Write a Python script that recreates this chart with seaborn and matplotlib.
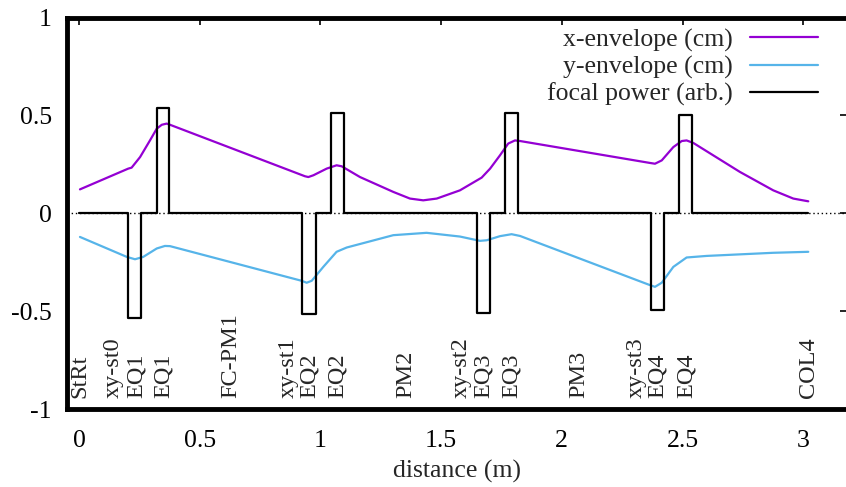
import numpy as np
import pandas as pd
import matplotlib
matplotlib.use("Agg")
import matplotlib.pyplot as plt
import seaborn as sns

# ---- data ----
x_env_s = [0.004, 0.204, 0.218, 0.253, 0.294, 0.322, 0.343, 0.363, 0.377, 0.936, 0.950, 0.971,
           1.026, 1.067, 1.088, 1.164, 1.302, 1.371, 1.426, 1.482, 1.578, 1.668, 1.703, 1.744,
           1.778, 1.806, 1.827, 2.365, 2.386, 2.414, 2.462, 2.497, 2.517, 2.545, 2.738, 2.876,
           2.959, 3.021]
x_env_v = [0.122, 0.228, 0.233, 0.287, 0.372, 0.432, 0.452, 0.458, 0.452, 0.189, 0.185, 0.194,
           0.228, 0.245, 0.240, 0.185, 0.109, 0.075, 0.066, 0.075, 0.117, 0.182, 0.228, 0.296,
           0.356, 0.372, 0.369, 0.257, 0.253, 0.270, 0.338, 0.369, 0.372, 0.359, 0.211, 0.117,
           0.075, 0.061]

y_env_s = [0.004, 0.198, 0.232, 0.266, 0.322, 0.356, 0.377, 0.922, 0.943, 0.964, 1.012, 1.067,
           1.109, 1.302, 1.440, 1.578, 1.661, 1.689, 1.744, 1.792, 1.827, 2.365, 2.386, 2.414,
           2.462, 2.517, 2.600, 2.876, 3.021]
y_env_v = [-0.121, -0.223, -0.235, -0.223, -0.180, -0.167, -0.168, -0.345, -0.355, -0.345,
           -0.274, -0.197, -0.175, -0.112, -0.100, -0.119, -0.141, -0.138, -0.117, -0.107,
           -0.116, -0.367, -0.376, -0.355, -0.274, -0.226, -0.218, -0.202, -0.197]

quad_start = [0.204, 0.322, 0.922, 1.043, 1.647, 1.765, 2.370, 2.487]
quad_end = [0.257, 0.374, 0.980, 1.096, 1.703, 1.820, 2.423, 2.541]
quad_power = [-0.536, 0.536, -0.515, 0.514, -0.512, 0.514, -0.495, 0.500]
beamline_start = 0.0
beamline_end = 3.02

elem_names = ["StRt", "xy-st0", "EQ1", "EQ1", "FC-PM1", "xy-st1", "EQ2", "EQ2", "PM2",
              "xy-st2", "EQ3", "EQ3", "PM3", "xy-st3", "EQ4", "EQ4", "COL4"]
elem_pos = [0.004, 0.141, 0.236, 0.348, 0.630, 0.866, 0.953, 1.069, 1.355,
            1.582, 1.674, 1.790, 2.071, 2.307, 2.394, 2.515, 3.024]

x_ticks = [0, 0.5, 1, 1.5, 2, 2.5, 3]
x_ticklabels = ["0", "0.5", "1", "1.5", "2", "2.5", "3"]
y_ticks = [-1, -0.5, 0, 0.5, 1]
y_ticklabels = ["-1", "-0.5", "0", "0.5", "1"]

# ---- build focal power step profile from quad table ----
fs = [beamline_start]
fv = [0.0]
for s, e, p in zip(quad_start, quad_end, quad_power):
    fs += [s, s, e, e]
    fv += [0.0, p, p, 0.0]
fs.append(beamline_end)
fv.append(0.0)

sns.set_style("white")
plt.rcParams['font.family'] = ['Liberation Serif', 'DejaVu Serif']
FS = 18.5
LFS = 17.5

fig = plt.figure(figsize=(8.46, 4.87), dpi=100)
W, H = 846, 487
xmin, xmax = -0.05, 3.18
ppu = 241.4
left_px = 79 + xmin * ppu
width_px = (xmax - xmin) * ppu
top_px, bot_px = 17.5, 409.0
ax = fig.add_axes([left_px / W, (H - bot_px) / H, width_px / W, (bot_px - top_px) / H])

purple = "#9400D3"
blue = "#56B4E9"

ax.axhline(0, color="black", lw=1.0, ls=(0, (1, 2)), zorder=1)

dfx = pd.DataFrame({"s": x_env_s, "v": x_env_v})
dfy = pd.DataFrame({"s": y_env_s, "v": y_env_v})
dff = pd.DataFrame({"s": fs, "v": fv})

sns.lineplot(data=dfx, x="s", y="v", ax=ax, color=purple, lw=1.6, label="x-envelope (cm)",
             sort=False, estimator=None)
sns.lineplot(data=dfy, x="s", y="v", ax=ax, color=blue, lw=1.6, label="y-envelope (cm)",
             sort=False, estimator=None)
sns.lineplot(data=dff, x="s", y="v", ax=ax, color="black", lw=1.6, label="focal power (arb.)",
             sort=False, estimator=None)

for name, pos in zip(elem_names, elem_pos):
    ax.text(pos, -0.945, name, rotation=90, ha="center", va="bottom", fontsize=LFS)

ax.set_xlim(xmin, xmax)
ax.set_ylim(-1, 1)
ax.set_xticks(x_ticks)
ax.set_xticklabels(x_ticklabels)
ax.set_yticks(y_ticks)
ax.set_yticklabels(y_ticklabels)
ax.tick_params(axis="x", which="major", direction="in", length=5, width=1.2,
               labelsize=FS, top=True, colors="black", pad=15)
ax.tick_params(axis="y", which="major", direction="in", length=5, width=1.2,
               labelsize=FS, right=True, colors="black", pad=11)
ax.set_xlabel("distance (m)", fontsize=FS, labelpad=6)
ax.set_ylabel("")

for side in ["left", "top", "bottom"]:
    ax.spines[side].set_linewidth(3.5)
    ax.spines[side].set_color("black")
ax.spines["right"].set_visible(False)

ax.legend(loc="upper right", bbox_to_anchor=(3.06, 0.945), bbox_transform=ax.transData,
          frameon=False, fontsize=FS, markerfirst=False, handlelength=2.65,
          handletextpad=0.65, labelspacing=0.15, borderaxespad=0.0, borderpad=0.0)

fig.savefig("out.png", dpi=100)
